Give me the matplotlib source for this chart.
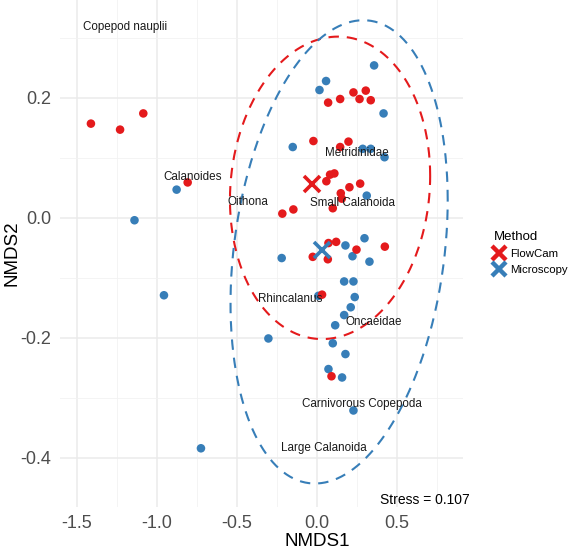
import numpy as np
import matplotlib
matplotlib.use("Agg")
import matplotlib.pyplot as plt
from matplotlib.lines import Line2D

plt.rcParams['font.family'] = ['Liberation Sans', 'DejaVu Sans']

# ---------------- data ----------------
methods = ["FlowCam", "Microscopy"]
method_colors = ["#E41A1C", "#377EB8"]

flowcam_x = [-1.412, -1.230, -1.085, -0.808, -0.217, -0.148, 0.227, 0.304, 0.265, 0.335,
             0.144, 0.069, -0.023, 0.144, 0.196, 0.108, 0.081, 0.058, 0.269, 0.202,
             0.148, 0.154, 0.098, 0.423, 0.246, 0.071, 0.119, -0.027, 0.067, 0.031, 0.090]
flowcam_y = [0.157, 0.147, 0.174, 0.059, 0.007, 0.014, 0.209, 0.212, 0.198, 0.196,
             0.198, 0.192, 0.128, 0.118, 0.127, 0.074, 0.072, 0.061, 0.057, 0.051,
             0.041, 0.032, 0.016, -0.048, -0.053, -0.042, -0.040, -0.065, -0.069, -0.128, -0.264]

microscopy_x = [0.356, 0.056, 0.015, 0.415, -0.152, 0.285, 0.335, 0.421, 0.310, 0.296,
                -0.221, 0.177, 0.221, 0.327, 0.169, 0.227, 0.008, 0.235, 0.210, 0.169,
                0.113, -0.304, 0.098, 0.177, 0.071, 0.156, 0.227, -0.877, -1.140, -0.956, -0.725]
microscopy_y = [0.254, 0.228, 0.213, 0.174, 0.118, 0.115, 0.115, 0.101, 0.037, -0.034,
                -0.067, -0.046, -0.064, -0.073, -0.106, -0.106, -0.130, -0.132, -0.149, -0.162,
                -0.179, -0.201, -0.209, -0.227, -0.252, -0.266, -0.321, 0.047, -0.004, -0.129, -0.384]

centroid_x = [-0.033, 0.029]
centroid_y = [0.056, -0.053]

# ellipse summaries (center, sd along axes, correlation)
ellipse_cx = [0.081, 0.1375]
ellipse_cy = [0.050, -0.0567]
ellipse_sx = [0.625, 0.678]
ellipse_sy = [0.252, 0.386]
ellipse_r = [0.079, 0.223]

taxa = ["Copepod nauplii", "Calanoides", "Oithona", "Small Calanoida", "Metridinidae",
        "Rhincalanus", "Oncaeidae", "Carnivorous Copepoda", "Large Calanoida"]
taxa_x = [-1.20, -0.78, -0.43, 0.22, 0.25, -0.17, 0.356, 0.28, 0.04]
taxa_y = [0.318, 0.068, 0.027, 0.025, 0.108, -0.135, -0.173, -0.311, -0.383]

stress_text = "Stress = 0.107"

# ---------------- figure ----------------
fig = plt.figure(figsize=(5.7, 5.5), dpi=100)
ax = fig.add_axes([0.105, 0.078, 0.707, 0.922])

xmin, xmax = -1.606, 0.91
ymin, ymax = -0.482, 0.363
ax.set_xlim(xmin, xmax)
ax.set_ylim(ymin, ymax)

for s in ax.spines.values():
    s.set_visible(False)
ax.set_xticks([-1.5, -1.0, -0.5, 0.0, 0.5])
ax.set_xticklabels(["-1.5", "-1.0", "-0.5", "0.0", "0.5"])
ax.set_yticks([-0.4, -0.2, 0.0, 0.2])
ax.set_yticklabels(["-0.4", "-0.2", "0.0", "0.2"])
ax.set_xticks([-1.25, -0.75, -0.25, 0.25, 0.75], minor=True)
ax.set_yticks([-0.3, -0.1, 0.1, 0.3], minor=True)
ax.tick_params(which='both', length=0)
ax.tick_params(axis='both', which='major', labelsize=13, labelcolor='#4D4D4D', pad=6)
ax.grid(which='major', color='#EBEBEB', lw=1.1)
ax.grid(which='minor', color='#F2F2F2', lw=0.6)
ax.set_axisbelow(True)

ax.set_xlabel("NMDS1", fontsize=13.5, va='center')
ax.set_ylabel("NMDS2", fontsize=13.5, va='center')
ax.xaxis.set_label_coords(0.638, -0.068)
ax.yaxis.set_label_coords(-0.119, 0.5)

# ellipses
t = np.linspace(0, 2 * np.pi, 500)
for i in range(2):
    sx, sy, r = ellipse_sx[i], ellipse_sy[i], ellipse_r[i]
    cov = np.array([[sx * sx, r * sx * sy], [r * sx * sy, sy * sy]])
    L = np.linalg.cholesky(cov)
    pts = L @ np.vstack([np.cos(t), np.sin(t)])
    ax.plot(ellipse_cx[i] + pts[0], ellipse_cy[i] + pts[1], color=method_colors[i],
            lw=1.5, dashes=(5, 3.8), zorder=2)

# points (blue first, red on top)
ax.scatter(microscopy_x, microscopy_y, s=38, color=method_colors[1], edgecolor='none', zorder=3)
ax.scatter(flowcam_x, flowcam_y, s=38, color=method_colors[0], edgecolor='none', zorder=3)

# centroids
for i in range(2):
    ax.plot(centroid_x[i], centroid_y[i], marker='x', ms=12, mew=2.6,
            color=method_colors[i], linestyle='none', zorder=4)

# taxa labels
for name, x, y in zip(taxa, taxa_x, taxa_y):
    ax.text(x, y, name, fontsize=8.4, ha='center', va='center', color='#1A1A1A', zorder=5)

ax.text(0.675, -0.470, stress_text, fontsize=10, ha='center', va='center', color='black')

# legend
handles = [Line2D([0], [0], marker='x', ms=10, mew=3.2, color=c, linestyle='none')
           for c in method_colors]
leg = fig.legend(handles, methods, loc='upper left', bbox_to_anchor=(0.852, 0.595),
                 frameon=False, title="Method", fontsize=8.2, title_fontsize=9.5,
                 handletextpad=0.45, labelspacing=0.55, borderpad=0.2, handlelength=1.0)
leg._legend_box.align = "left"

fig.savefig("out.png", dpi=100)
